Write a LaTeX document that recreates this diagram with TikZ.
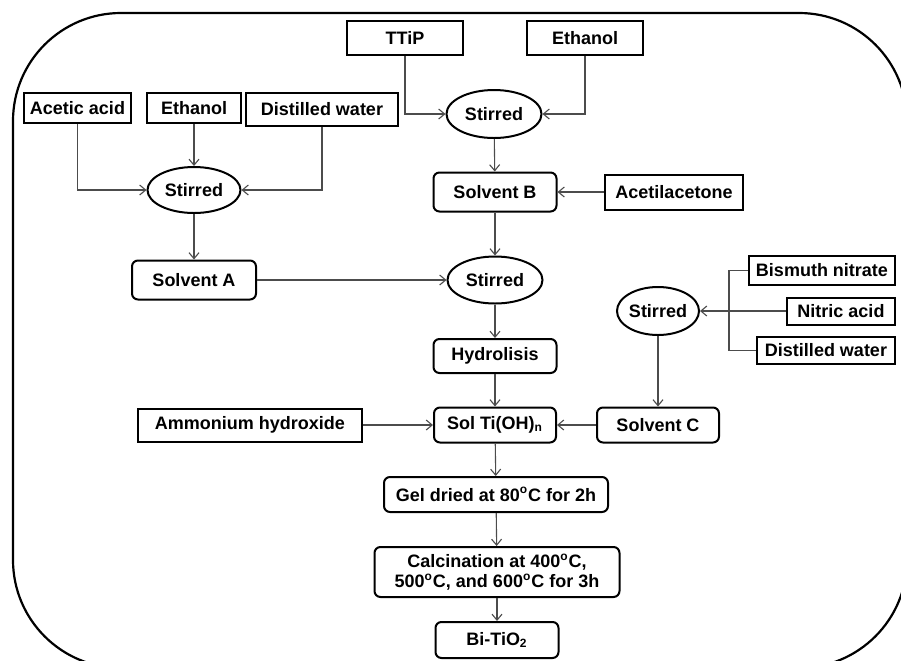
\documentclass[tikz,border=0pt]{standalone}
\usepackage{fontspec}
\setmainfont{Liberation Sans}
\usetikzlibrary{arrows.meta,positioning,shapes.geometric,calc}

\begin{document}
\begin{tikzpicture}[x=0.5pt,y=-0.5pt,
    every node/.style={draw,line width=1pt,inner sep=0pt,align=center,
      font=\fontsize{9}{10}\selectfont\bfseries},
    inbox/.style={rectangle},
    stepbox/.style={rectangle,rounded corners=3pt},
    mixer/.style={ellipse},
    flow/.style={draw=black!70,line width=0.55pt,-{Straight Barb[length=3pt,width=5pt]}},
    link/.style={draw=black!70,line width=0.55pt}]
      \useasboundingbox (0,0) rectangle (901,660);
      \clip (0,0) rectangle (901,660);
      \draw[line width=1.1pt,rounded corners=54pt] (13,13) rectangle (907,668);
      % raw materials, top
      \node[inbox,minimum width=58pt,minimum height=17pt] (ttip) at (405,38) {TTiP};
      \node[inbox,minimum width=58pt,minimum height=17pt] (eth1) at (585,38) {Ethanol};
      \node[mixer,minimum width=47.5pt,minimum height=24pt] (st1) at (494,114) {Stirred};
      \node[inbox,minimum width=53.5pt,minimum height=15pt] (acetic) at (77.5,108) {Acetic acid};
      \node[inbox,minimum width=47pt,minimum height=15pt] (eth2) at (194,108) {Ethanol};
      \node[inbox,minimum width=76pt,minimum height=16.5pt] (dw1) at (322,109.5) {Distilled water};
      \node[mixer,minimum width=46.5pt,minimum height=23pt] (st2) at (194,190) {Stirred};
      % solvents
      \node[stepbox,minimum width=61.5pt,minimum height=19.5pt] (solb) at (495,192) {Solvent B};
      \node[inbox,minimum width=69pt,minimum height=17.5pt] (acac) at (674,192) {Acetilacetone};
      \node[stepbox,minimum width=62pt,minimum height=19.5pt] (sola) at (194,280) {Solvent A};
      \node[mixer,minimum width=47.5pt,minimum height=23.5pt] (st3) at (495,280) {Stirred};
      \node[stepbox,minimum width=61.5pt,minimum height=17pt] (hyd) at (495,356) {Hydrolisis};
      \node[stepbox,minimum width=61pt,minimum height=17.5pt] (sol) at (495,425) {Sol Ti(OH)\textsubscript{n}};
      \node[inbox,minimum width=112pt,minimum height=16.5pt] (amm) at (250,425) {Ammonium hydroxide};
      \node[stepbox,minimum width=61pt,minimum height=17.5pt] (solc) at (658,425) {Solvent C};
      \node[mixer,minimum width=40pt,minimum height=24pt] (st4) at (658,311) {Stirred};
      \node[inbox,minimum width=73pt,minimum height=14.5pt] (bis) at (822,270.5) {Bismuth nitrate};
      \node[inbox,minimum width=54pt,minimum height=13.5pt] (nit) at (841,311) {Nitric acid};
      \node[inbox,minimum width=69pt,minimum height=13.5pt] (dw2) at (826,350.5) {Distilled water};
      \coordinate (brk) at (729,311);
      % product line
      \node[stepbox,minimum width=112pt,minimum height=17.5pt] (gel) at (496,494.5) {Gel dried at 80\textsuperscript{o}C for 2h};
      \node[stepbox,minimum width=122.5pt,minimum height=25pt] (calc) at (497,572) {Calcination at 400\textsuperscript{o}C,\\500\textsuperscript{o}C, and 600\textsuperscript{o}C for 3h};
      \node[stepbox,minimum width=61.5pt,minimum height=18pt] (bi) at (497,640) {Bi-TiO\textsubscript{2}};
      \draw[flow] (ttip) |- (st1);
      \draw[flow] (eth1) |- (st1);
      \draw[flow] (acetic) |- (st2);
      \draw[flow] (eth2) -- (st2);
      \draw[flow] (dw1) |- (st2);
      \draw[flow] (st2) -- (sola);
      \draw[flow] (st1) -- (solb);
      \draw[flow] (acac) -- (solb);
      \draw[flow] (solb) -- (st3);
      \draw[flow] (sola) -- (st3);
      \draw[flow] (st3) -- (hyd);
      \draw[flow] (hyd) -- (sol);
      \draw[flow] (amm) -- (sol);
      \draw[flow] (solc) -- (sol);
      \draw[link] (bis) -| (brk) |- (dw2);
      \draw[flow] (nit) -- (st4);
      \draw[flow] (st4) -- (solc);
      \draw[flow] (sol) -- (gel);
      \draw[flow] (gel) -- (calc);
      \draw[flow] (calc) -- (bi);
    \end{tikzpicture}
\end{document}
